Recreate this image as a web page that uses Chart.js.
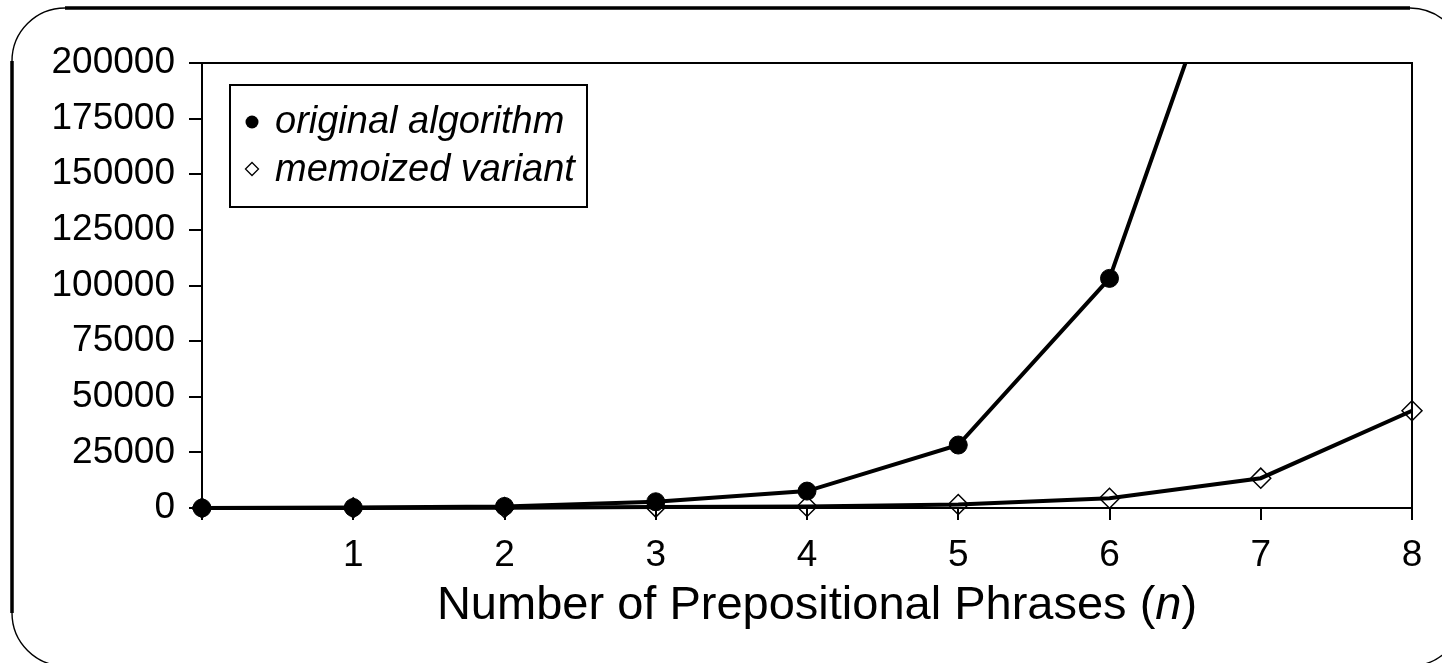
<!DOCTYPE html>
<html><head><meta charset="utf-8">
<style>html,body{margin:0;padding:0;background:#fff;overflow:hidden}#wrap{position:relative;width:1442px;height:663px}</style>
<script src="https://cdn.jsdelivr.net/npm/chart.js@4/dist/chart.umd.min.js"></script>
</head><body><div id="wrap"><canvas id="c" width="1442" height="663"></canvas></div>
<script>
const xValues = [0, 1, 2, 3, 4, 5, 6, 7, 8];
const xTickLabels = ['', '1', '2', '3', '4', '5', '6', '7', '8'];
const yTickLabels = ['0', '25000', '50000', '75000', '100000', '125000', '150000', '175000', '200000'];
const originalAlgorithm = [0, 200, 700, 2800, 7600, 28300, 103200, 296000];
const memoizedVariant = [0, 50, 150, 400, 700, 1600, 4400, 13400, 43700];
const seriesNames = ['original algorithm', 'memoized variant'];
const axisTitleParts = ['Number of Prepositional Phrases (', 'n', ')'];

const FONT = '"Liberation Sans", Arial, sans-serif';

const framePlugin = {
  id: 'frame',
  beforeDraw(chart) {
    const ctx = chart.ctx;
    ctx.save();
    ctx.fillStyle = '#fff';
    ctx.fillRect(0, 0, chart.width, chart.height);
    const L = 12, T = 8, R = 1463, B = 666, r = 53;
    ctx.strokeStyle = '#000';
    ctx.lineWidth = 3.5;
    ctx.beginPath();
    ctx.moveTo(L + r, T); ctx.lineTo(R - r, T);
    ctx.moveTo(L, T + r); ctx.lineTo(L, B - r);
    ctx.moveTo(R, T + r); ctx.lineTo(R, B - r);
    ctx.moveTo(L + r, B); ctx.lineTo(R - r, B);
    ctx.stroke();
    ctx.lineWidth = 1.4;
    ctx.beginPath(); ctx.arc(L + r, T + r, r, Math.PI, 1.5 * Math.PI); ctx.stroke();
    ctx.beginPath(); ctx.arc(R - r, T + r, r, 1.5 * Math.PI, 2 * Math.PI); ctx.stroke();
    ctx.beginPath(); ctx.arc(L + r, B - r, r, 0.5 * Math.PI, Math.PI); ctx.stroke();
    ctx.beginPath(); ctx.arc(R - r, B - r, r, 0, 0.5 * Math.PI); ctx.stroke();
    ctx.restore();
  },
  afterDraw(chart) {
    const ctx = chart.ctx;
    const a = chart.chartArea;
    ctx.save();
    // top and right edges of plot box
    ctx.strokeStyle = '#000';
    ctx.lineWidth = 2;
    ctx.beginPath();
    ctx.moveTo(a.left, a.top); ctx.lineTo(a.right, a.top); ctx.lineTo(a.right, a.bottom);
    ctx.stroke();
    // legend
    const lx = a.left + 28, ly = a.top + 22;
    ctx.lineWidth = 2;
    ctx.strokeRect(lx, ly, 357, 122);
    ctx.fillStyle = '#000';
    ctx.beginPath(); ctx.arc(lx + 22, ly + 37, 6.5, 0, 2 * Math.PI); ctx.fill();
    ctx.lineWidth = 1.3;
    const dx = lx + 22, dy = ly + 84, h = 6.5;
    ctx.beginPath(); ctx.moveTo(dx - h, dy); ctx.lineTo(dx, dy - h); ctx.lineTo(dx + h, dy); ctx.lineTo(dx, dy + h); ctx.closePath(); ctx.stroke();
    ctx.font = 'italic 38px ' + FONT;
    ctx.textBaseline = 'alphabetic';
    ctx.textAlign = 'left';
    ctx.fillText(seriesNames[0], lx + 45, ly + 48);
    ctx.fillText(seriesNames[1], lx + 45, ly + 96);
    // x axis title with italic n
    const fN = '47px ' + FONT, fI = 'italic 47px ' + FONT;
    ctx.font = fN; const w0 = ctx.measureText(axisTitleParts[0]).width;
    ctx.font = fI; const w1 = ctx.measureText(axisTitleParts[1]).width;
    ctx.font = fN; const w2 = ctx.measureText(axisTitleParts[2]).width;
    const total = w0 + w1 + w2;
    let x = (a.left + a.right) / 2 + 10 - total / 2;
    const by = a.bottom + 111;
    ctx.font = fN; ctx.fillText(axisTitleParts[0], x, by); x += w0;
    ctx.font = fI; ctx.fillText(axisTitleParts[1], x, by); x += w1;
    ctx.font = fN; ctx.fillText(axisTitleParts[2], x, by);
    ctx.restore();
  }
};

const toPoints = arr => arr.map((v, i) => ({ x: xValues[i], y: v }));

new Chart(document.getElementById('c'), {
  type: 'line',
  data: {
    datasets: [
      {
        label: seriesNames[1],
        data: toPoints(memoizedVariant),
        borderColor: '#000',
        borderWidth: 4,
        pointStyle: 'rectRot',
        pointRadius: 10,
        pointBackgroundColor: 'rgba(0,0,0,0)',
        pointBorderColor: '#000',
        pointBorderWidth: 1.5,
        tension: 0,
        clip: { left: false, top: 0, right: false, bottom: false }
      },
      {
        label: seriesNames[0],
        data: toPoints(originalAlgorithm),
        borderColor: '#000',
        borderWidth: 4,
        pointStyle: 'circle',
        pointRadius: 9,
        pointBackgroundColor: '#000',
        pointBorderColor: '#000',
        pointBorderWidth: 1,
        tension: 0,
        clip: { left: false, top: 0, right: false, bottom: false }
      }
    ]
  },
  options: {
    responsive: false,
    animation: false,
    devicePixelRatio: 1,
    layout: { padding: { left: 0, top: 63, right: 30, bottom: 0 } },
    plugins: { legend: { display: false }, tooltip: { enabled: false } },
    scales: {
      x: {
        type: 'linear',
        min: 0, max: 8,
        afterFit(scale) { scale.height = 155; },
        afterBuildTicks(scale) { scale.ticks = xValues.map(v => ({ value: v })); },
        ticks: {
          stepSize: 1,
          autoSkip: false,
          maxRotation: 0,
          padding: 14,
          color: '#000',
          font: { family: FONT, size: 37 },
          callback: (v, i) => xTickLabels[i]
        },
        grid: { display: true, drawOnChartArea: false, drawTicks: true, tickLength: 12, color: '#000', lineWidth: 2 },
        border: { display: true, color: '#000', width: 2 }
      },
      y: {
        type: 'linear',
        min: 0, max: 200000,
        afterFit(scale) { scale.width = 202; },
        ticks: {
          stepSize: 25000,
          autoSkip: false,
          padding: 14,
          color: '#000',
          font: { family: FONT, size: 37 },
          callback: (v, i) => yTickLabels[i]
        },
        grid: { display: true, drawOnChartArea: false, drawTicks: true, tickLength: 13, color: '#000', lineWidth: 2 },
        border: { display: true, color: '#000', width: 2 }
      }
    }
  },
  plugins: [framePlugin]
});
</script>
</body></html>
